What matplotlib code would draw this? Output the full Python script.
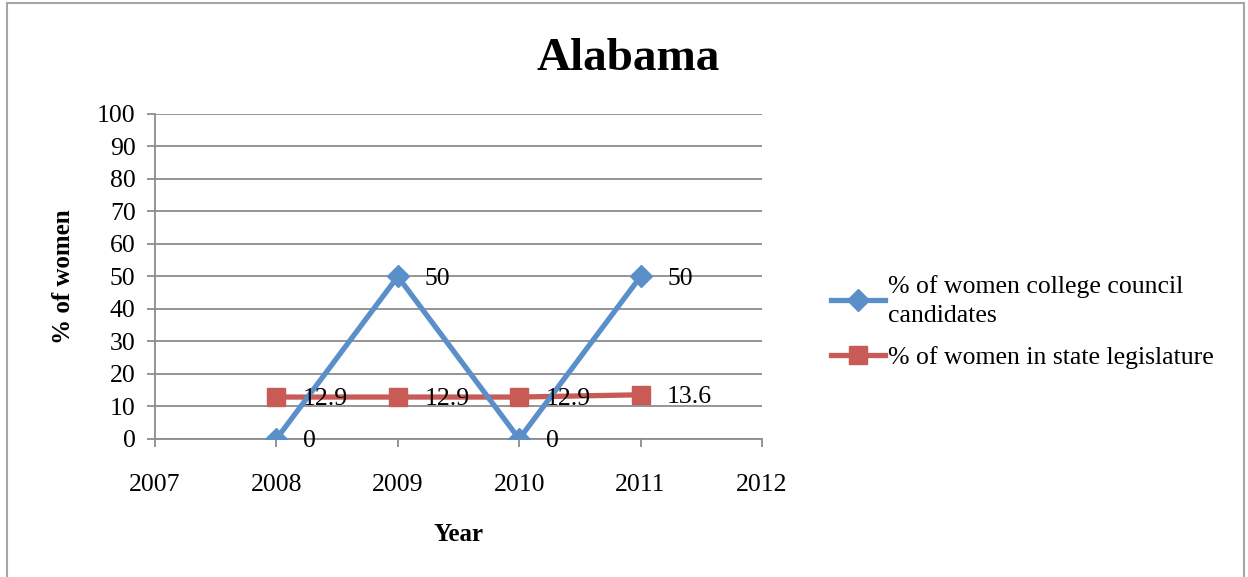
import matplotlib
matplotlib.use('Agg')
import matplotlib.pyplot as plt
from matplotlib.patches import Rectangle

plt.rcParams['font.family'] = ['Liberation Serif', 'DejaVu Serif']

years = [2008, 2009, 2010, 2011]
council = [0, 50, 0, 50]
legislature = [12.9, 12.9, 12.9, 13.6]
council_label = '% of women college council\ncandidates'
legis_label = '% of women in state legislature'
BLUE = '#5A8FCA'; RED = '#C95B56'; GRID = '#8C8C8C'

fig = plt.figure(figsize=(12.48, 5.77), dpi=100)
ax = fig.add_axes([0.1242, 0.2392, 0.4864, 0.5633])

ax.plot(years, council, color=BLUE, lw=3.8, marker='D', ms=11, label=council_label, zorder=4)
ax.plot(years, legislature, color=RED, lw=3.8, marker='s', ms=13, label=legis_label, zorder=3)
for x, y in zip(years, council):
    ax.annotate(f'{y:g}', (x, y), textcoords='offset points', xytext=(19, -1.5), ha='left', va='center', fontsize=18.5, zorder=5)
for x, y in zip(years, legislature):
    ax.annotate(f'{y:g}', (x, y), textcoords='offset points', xytext=(19, -1.5), ha='left', va='center', fontsize=18.5, zorder=5)

ax.set_xlim(2007, 2012); ax.set_ylim(0, 100)
ax.set_xticks(range(2007, 2013)); ax.set_yticks(range(0, 101, 10))
ax.tick_params(labelsize=18.5, length=6, color=GRID, width=1.3)
ax.tick_params(axis='x', pad=19)
ax.tick_params(axis='y', pad=8)
ax.yaxis.grid(True, color=GRID, lw=1.3)
ax.set_axisbelow(True)
for s in ['top', 'right']:
    ax.spines[s].set_visible(False)
for s in ['left', 'bottom']:
    ax.spines[s].set_color(GRID); ax.spines[s].set_linewidth(1.3)

ax.set_xlabel('Year', fontsize=18, fontweight='bold', labelpad=20)
ax.set_ylabel('% of women', fontsize=18, fontweight='bold', labelpad=16)
fig.text(628 / 1248, 1 - 59 / 577, 'Alabama', ha='center', va='center', fontsize=34, fontweight='bold')

leg = ax.legend(loc='center left', bbox_to_anchor=(808 / 1248, 1 - 322 / 577), bbox_transform=fig.transFigure,
                frameon=False, fontsize=18.5, handlelength=2.1, handletextpad=0.1, labelspacing=0.75)
for t in leg.get_texts():
    t.set_linespacing(1.45)

fig.add_artist(Rectangle((7 / 1248, -0.02), 1237 / 1248, 1.02 - 3 / 577, transform=fig.transFigure,
                         fill=False, ec='#A6A6A6', lw=1.5))
fig.savefig('out.png', dpi=100)
